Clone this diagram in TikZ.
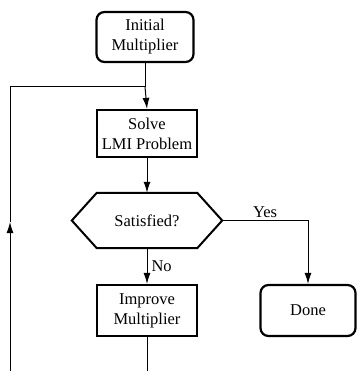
\documentclass[tikz,border=0pt]{standalone}
\usepackage{fontspec}
\setmainfont{Liberation Serif}
\usetikzlibrary{arrows.meta}
\begin{document}
\begin{tikzpicture}[x=1pt,y=-1pt,
  txt/.style={font=\rmfamily\fontsize{16.5}{20}\selectfont},
  box/.style={txt, draw, line width=2.2pt, align=center, inner sep=0pt},
  rbox/.style={box, rounded corners=8pt},
  conn/.style={line width=1pt},
  arr/.style={conn, -{Latex[length=11pt,width=7pt]}}]
\useasboundingbox (0,0) rectangle (357,371);
\node[rbox, minimum width=97pt, minimum height=50pt] (init) at (145,37) {Initial\\Multiplier};
\node[box, minimum width=100pt, minimum height=47pt] (solve) at (147,133.5) {Solve\\LMI Problem};
\node[txt, minimum width=150pt, minimum height=55pt, inner sep=0pt] (sat) at (147,220.5) {Satisfied?};
\draw[line width=2pt] (sat.west) -- ([xshift=25pt]sat.north west) -- ([xshift=-25pt]sat.north east)
  -- (sat.east) -- ([xshift=-25pt]sat.south east) -- ([xshift=25pt]sat.south west) -- cycle;
\node[box, minimum width=100pt, minimum height=51pt] (improve) at (147,310.5) {Improve\\Multiplier};
\node[rbox, minimum width=95pt, minimum height=51pt] (done) at (308,310.5) {Done};
\coordinate (j) at (init.south |- 0,87);
\coordinate (lt) at (10,87);
\coordinate (la) at (10,222);
\coordinate (lb) at (10,371);
\coordinate (ib) at (improve.south |- 0,371);
\coordinate (yc) at (done.north |- sat.east);
\draw[conn] (init.south) -- (j);
\draw[arr] (j) -- (solve.north);
\draw[arr] (lb) -- (la);
\draw[conn] (la) -- (lt) -- (j);
\draw[arr] (solve.south) -- (sat.north);
\draw[arr] (sat.south) -- node[txt, right, inner sep=4pt] {No} (improve.north);
\draw[arr] (sat.east) -- node[txt, above, inner sep=2pt] {Yes} (yc) -- (done.north);
\draw[conn] (improve.south) -- (ib);
\end{tikzpicture}
\end{document}
